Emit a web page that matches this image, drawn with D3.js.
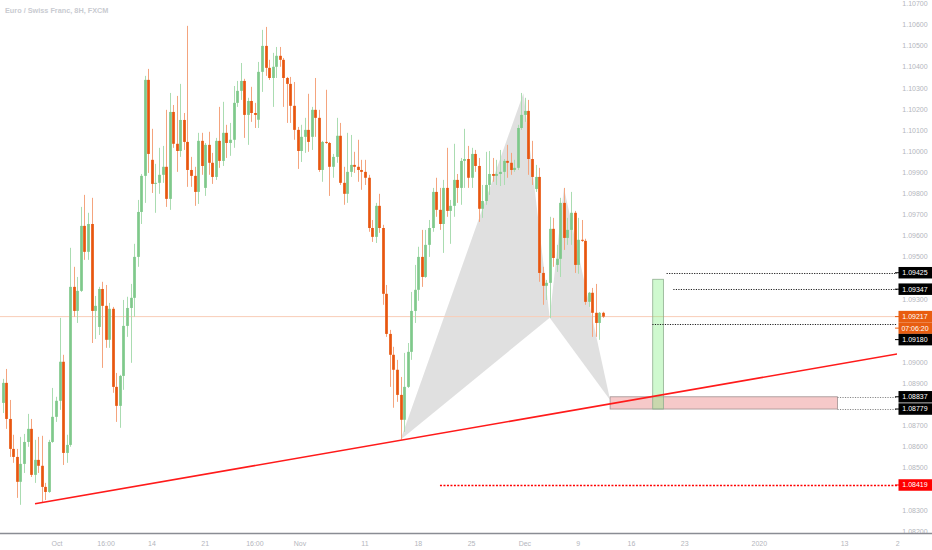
<!DOCTYPE html>
<html><head><meta charset="utf-8">
<script src="https://cdn.jsdelivr.net/npm/d3@7"></script>
<style>html,body{margin:0;padding:0;background:#fff;overflow:hidden}svg{display:block;font-family:"Liberation Sans",Arial,sans-serif}</style>
</head><body><svg id="chart" width="932" height="550"></svg>
<script>
// ---- data (8H bars, EUR/CHF) ----
const barOpen=[1.08808,1.08903,1.08732,1.08590,1.08552,1.08434,1.08519,1.08623,1.08685,1.08467,
1.08538,1.08510,1.08410,1.08386,1.08623,1.08742,1.08818,1.09003,1.08571,1.08609,
1.09358,1.09244,1.09339,1.09647,1.09524,1.09656,1.09244,1.09168,1.09348,1.09268,
1.09107,1.09254,1.08884,1.08794,1.08936,1.09173,1.09258,1.09306,1.09500,1.09713,
1.09884,1.10339,1.09960,1.09846,1.09851,1.09889,1.09927,1.09775,1.10187,1.10036,
1.10002,1.10149,1.10045,1.09912,1.09884,1.09808,1.10050,1.09827,1.10031,1.09946,
1.09879,1.10050,1.09955,1.10088,1.10040,1.10055,1.10230,1.10287,1.10334,1.10173,
1.10239,1.10182,1.10150,1.10377,1.10500,1.10396,1.10348,1.10401,1.10453,1.10434,
1.10348,1.10320,1.10216,1.10102,1.10002,1.10069,1.10102,1.10069,1.10197,1.10159,
1.09912,1.10045,1.10040,1.09927,1.09974,1.10074,1.09851,1.09799,1.09903,1.09936,
1.09927,1.09912,1.09903,1.09875,1.09637,1.09595,1.09742,1.09637,1.09325,1.09135,
1.09036,1.08965,1.08846,1.08728,1.08884,1.09050,1.09244,1.09344,1.09500,1.09405,
1.09557,1.09637,1.09808,1.09723,1.09656,1.09827,1.09718,1.09742,1.09865,1.09827,
1.09955,1.09964,1.09875,1.09988,1.09931,1.09728,1.09765,1.09841,1.09893,1.09884,
1.09893,1.09903,1.09955,1.09946,1.09912,1.09922,1.10111,1.10173,1.10192,1.09964,
1.09822,1.09879,1.09424,1.09363,1.09377,1.09633,1.09462,1.09491,1.09756,1.09590,
1.09628,1.09709,1.09462,1.09581,1.09576,1.09287,1.09330,1.09235,1.09187,1.09235];
const barHigh=[1.08922,1.08969,1.08822,1.08657,1.08590,1.08647,1.08661,1.08756,1.08732,1.08633,
1.08647,1.08652,1.08429,1.08633,1.08879,1.08837,1.09211,1.09036,1.08657,1.09543,
1.09453,1.09405,1.09737,1.09794,1.09709,1.09780,1.09315,1.09358,1.09382,1.09367,
1.09282,1.09263,1.08950,1.08941,1.09296,1.09311,1.09372,1.09562,1.09770,1.09893,
1.10358,1.10391,1.10107,1.09941,1.10017,1.10026,1.10197,1.10277,1.10220,1.10263,
1.10320,1.10182,1.10595,1.09974,1.09927,1.10088,1.10088,1.10040,1.10093,1.09993,
1.10064,1.10211,1.10235,1.10126,1.10135,1.10310,1.10334,1.10419,1.10344,1.10254,
1.10306,1.10230,1.10424,1.10576,1.10590,1.10434,1.10467,1.10495,1.10495,1.10443,
1.10353,1.10353,1.10329,1.10116,1.10126,1.10159,1.10273,1.10211,1.10348,1.10197,
1.10050,1.10292,1.10045,1.09988,1.10159,1.10135,1.09927,1.10088,1.10078,1.09998,
1.10055,1.09960,1.09960,1.09889,1.09675,1.09756,1.09799,1.09652,1.09367,1.09154,
1.09074,1.09012,1.08931,1.09045,1.09092,1.09334,1.09462,1.09548,1.09628,1.09628,
1.09675,1.09827,1.09875,1.09827,1.09865,1.10017,1.09770,1.10036,1.09893,1.09969,
1.10107,1.10026,1.10017,1.10007,1.09969,1.09841,1.09998,1.10002,1.09969,1.09960,
1.10007,1.09964,1.10031,1.09993,1.09960,1.10126,1.10277,1.10254,1.10244,1.10050,
1.09936,1.09922,1.09453,1.09391,1.09690,1.09685,1.09557,1.09780,1.09827,1.09685,
1.09808,1.09718,1.09685,1.09675,1.09586,1.09334,1.09353,1.09372,1.09239,1.09240];
const barLow=[1.08760,1.08685,1.08552,1.08524,1.08358,1.08325,1.08476,1.08600,1.08457,1.08429,
1.08476,1.08334,1.08348,1.08382,1.08619,1.08718,1.08775,1.08514,1.08524,1.08600,
1.09216,1.09187,1.09334,1.09486,1.09486,1.09092,1.09111,1.09130,1.08974,1.09069,
1.09069,1.08856,1.08718,1.08690,1.08870,1.09121,1.08998,1.09216,1.09453,1.09656,
1.09756,1.09898,1.09803,1.09709,1.09799,1.09851,1.09737,1.09723,1.10017,1.09903,
1.09974,1.10007,1.09832,1.09832,1.09742,1.09751,1.09889,1.09789,1.09889,1.09846,
1.09865,1.09922,1.09931,1.09969,1.09979,1.10017,1.10211,1.10244,1.10064,1.10031,
1.10140,1.10111,1.10111,1.10282,1.10358,1.10339,1.10211,1.10348,1.10401,1.10211,
1.10135,1.10135,1.10055,1.09917,1.09950,1.09993,1.09998,1.10007,1.10069,1.09903,
1.09856,1.10035,1.09789,1.09875,1.09946,1.09841,1.09747,1.09756,1.09879,1.09898,
1.09856,1.09818,1.09841,1.09619,1.09571,1.09566,1.09614,1.09273,1.09121,1.08884,
1.08785,1.08813,1.08633,1.08671,1.08879,1.09012,1.09187,1.09292,1.09358,1.09401,
1.09500,1.09619,1.09690,1.09628,1.09519,1.09690,1.09562,1.09690,1.09756,1.09747,
1.09827,1.09827,1.09827,1.09903,1.09666,1.09685,1.09747,1.09794,1.09856,1.09841,
1.09836,1.09841,1.09875,1.09889,1.09903,1.09912,1.10102,1.10140,1.09889,1.09841,
1.09808,1.09382,1.09273,1.09296,1.09211,1.09453,1.09429,1.09405,1.09533,1.09557,
1.09557,1.09424,1.09420,1.09571,1.09273,1.09263,1.09121,1.09121,1.09107,1.09211];
const barClose=[1.08903,1.08732,1.08590,1.08552,1.08434,1.08519,1.08623,1.08685,1.08467,1.08538,
1.08510,1.08410,1.08386,1.08623,1.08742,1.08818,1.09003,1.08571,1.08609,1.09358,
1.09244,1.09339,1.09647,1.09524,1.09656,1.09244,1.09268,1.09348,1.09268,1.09107,
1.09254,1.08884,1.08794,1.08936,1.09173,1.09258,1.09306,1.09500,1.09713,1.09884,
1.10339,1.09988,1.09846,1.09851,1.09889,1.09927,1.09775,1.10187,1.10036,1.10002,
1.10149,1.10045,1.09912,1.09884,1.09808,1.10050,1.09931,1.10031,1.09946,1.09879,
1.10050,1.09955,1.10088,1.10040,1.10055,1.10230,1.10287,1.10334,1.10173,1.10239,
1.10182,1.10173,1.10377,1.10500,1.10396,1.10348,1.10401,1.10453,1.10434,1.10348,
1.10320,1.10216,1.10102,1.10002,1.10069,1.10102,1.10045,1.10197,1.10159,1.09912,
1.10045,1.10040,1.09927,1.09974,1.10074,1.09851,1.09799,1.09903,1.09936,1.09927,
1.09912,1.09903,1.09875,1.09637,1.09595,1.09742,1.09637,1.09325,1.09135,1.09036,
1.08965,1.08846,1.08728,1.08884,1.09050,1.09244,1.09344,1.09500,1.09405,1.09557,
1.09637,1.09808,1.09723,1.09656,1.09827,1.09718,1.09742,1.09865,1.09827,1.09955,
1.09964,1.09875,1.09988,1.09931,1.09728,1.09765,1.09841,1.09893,1.09884,1.09893,
1.09903,1.09955,1.09946,1.09912,1.09922,1.10111,1.10173,1.10192,1.09964,1.09879,
1.09879,1.09424,1.09363,1.09377,1.09633,1.09495,1.09491,1.09756,1.09590,1.09628,
1.09709,1.09462,1.09581,1.09576,1.09287,1.09330,1.09235,1.09187,1.09235,1.09217];

const priceTickValues=[1.082,1.083,1.084,1.085,1.086,1.087,1.088,1.089,1.090,1.091,1.092,1.093,1.094,1.095,1.096,1.097,1.098,1.099,1.100,1.101,1.102,1.103,1.104,1.105,1.106,1.107];
const timeTickLabels=["Oct","16:00","14","21","16:00","Nov","11","18","25","Dec","9","16","23","2020","13","2"];
const timeTickBars=[15.3,29.1,42,57,71,83.7,102,117,132,147,162,177,192,213,237,252];

const trendBars=[9.1,251.8];
const trendPrices=[1.08330,1.09040];
const patternBars=[112,146.6,154,158,171];        // X A B C D
const patternPrices=[1.08633,1.10276,1.09212,1.09827,1.08822];
const levelPrices=[1.09425,1.09347,1.09180,1.08837,1.08779,1.08419];
const levelStartBars=[186.9,188.8,182.9,235,235,123.1];
const redZoneBars=[171,235], redZonePrices=[1.08779,1.08837];
const greenZoneBars=[183,186], greenZonePrices=[1.08779,1.09394];
const lastPrice=1.09217, countdownText="07:06:20";
const titleText="Euro / Swiss Franc, 8H, FXCM";

// ---- layout ----
const W=932,H=550,plotRight=897,axisY=533;
const x=d3.scaleLinear().domain([0,169]).range([2.7,603]);
const y=d3.scaleLinear().domain([1.082,1.107]).range([531.2,3.7]);
const svg=d3.select("#chart");
svg.append("rect").attr("width",W).attr("height",H).attr("fill","#fff");
const defs=svg.append("defs");
defs.append("clipPath").attr("id","plot").append("rect").attr("x",0).attr("y",0).attr("width",plotRight).attr("height",axisY);
const plot=svg.append("g").attr("clip-path","url(#plot)");

// harmonic pattern triangles XAB and BCD
const pts=patternBars.map((b,i)=>[x(b),y(patternPrices[i])]);
plot.append("path").attr("d",d3.line()([pts[0],pts[1],pts[2]])+"Z").attr("fill","#e0e0e0");
plot.append("path").attr("d",d3.line()([pts[2],pts[3],pts[4]])+"Z").attr("fill","#e0e0e0");

// last price line
plot.append("line").attr("x1",0).attr("x2",plotRight).attr("y1",y(lastPrice)).attr("y2",y(lastPrice))
  .attr("stroke","#f9cdb8").attr("stroke-width",1);

// candles
const idx=d3.range(barOpen.length);
const bw=2.7;
const up=i=>barClose[i]>=barOpen[i];
plot.append("g").selectAll("line").data(idx).join("line")
  .attr("x1",i=>Math.round(x(i))+0.5).attr("x2",i=>Math.round(x(i))+0.5)
  .attr("y1",i=>y(barHigh[i])).attr("y2",i=>y(barLow[i]))
  .attr("stroke",i=>up(i)?"#aadcb1":"#f4a47e").attr("stroke-width",1);
plot.append("g").selectAll("rect").data(idx).join("rect")
  .attr("x",i=>Math.round(x(i))+0.5-bw/2).attr("width",bw)
  .attr("y",i=>y(Math.max(barOpen[i],barClose[i])))
  .attr("height",i=>Math.max(1,Math.abs(y(barOpen[i])-y(barClose[i]))))
  .attr("fill",i=>up(i)?"#7fc98b":"#e8560f");

// zones
plot.append("rect").attr("x",x(redZoneBars[0])).attr("width",x(redZoneBars[1])-x(redZoneBars[0]))
  .attr("y",y(redZonePrices[1])).attr("height",y(redZonePrices[0])-y(redZonePrices[1]))
  .attr("fill","rgba(232,120,120,0.4)").attr("stroke","#a09090").attr("stroke-width",0.8);
plot.append("rect").attr("x",x(greenZoneBars[0])).attr("width",x(greenZoneBars[1])-x(greenZoneBars[0]))
  .attr("y",y(greenZonePrices[1])).attr("height",y(greenZonePrices[0])-y(greenZonePrices[1]))
  .attr("fill","rgba(130,240,130,0.38)").attr("stroke","#8fae8f").attr("stroke-width",0.8);

// horizontal level rays
const levelColor=["#222","#222","#222","#888","#888","#ff0000"];
const levelDash=["1.2,1.3","1.2,1.3","1.2,1.3","1.2,1.3","1.2,1.3","2,1.5"];
const levelWidth=[1,1,1,1,1,1.4];
levelPrices.forEach((p,i)=>{
  plot.append("line").attr("x1",x(levelStartBars[i])).attr("x2",plotRight)
    .attr("y1",Math.round(y(p))+0.5).attr("y2",Math.round(y(p))+0.5)
    .attr("stroke",levelColor[i]).attr("stroke-width",levelWidth[i]).attr("stroke-dasharray",levelDash[i]);
});

// trend line
plot.append("line").attr("x1",x(trendBars[0])).attr("y1",y(trendPrices[0]))
  .attr("x2",x(trendBars[1])).attr("y2",y(trendPrices[1]))
  .attr("stroke","#ff1a1a").attr("stroke-width",1.6);

// price-axis labels with overlap avoidance
const boxes=[
  {p:levelPrices[0],t:"1.09425",c:"#000"},
  {p:levelPrices[1],t:"1.09347",c:"#000"},
  {p:lastPrice,t:"1.09217",c:"#e85d10"},
  {p:lastPrice,t:countdownText,c:"#e85d10",follow:true},
  {p:levelPrices[2],t:"1.09180",c:"#000"},
  {p:levelPrices[3],t:"1.08837",c:"#000"},
  {p:levelPrices[4],t:"1.08779",c:"#000"},
  {p:levelPrices[5],t:"1.08419",c:"#ff0000"}];
const bh=11.5;
let prev=-100;
boxes.forEach(b=>{let yy=y(b.p); if(b.follow) yy=prev+bh; if(yy<prev+bh) yy=prev+bh; b.y=yy; prev=yy;});

// price ticks (hidden when covered by a label)
const axisG=svg.append("g");
priceTickValues.forEach(v=>{
  const yy=y(v);
  if(boxes.some(b=>Math.abs(b.y-yy)<9)) return;
  axisG.append("text").attr("x",915).attr("y",yy).attr("dy","0.35em").attr("text-anchor","middle")
    .attr("font-size",7).attr("fill","#b4b6bd").text(d3.format(".5f")(v));
});

const lab=svg.append("g");
boxes.forEach(b=>{
  lab.append("line").attr("x1",895).attr("x2",899).attr("y1",b.y).attr("y2",b.y).attr("stroke",b.c);
  lab.append("rect").attr("x",898.5).attr("y",b.y-bh/2).attr("width",33.5).attr("height",bh).attr("fill",b.c);
  lab.append("text").attr("x",915).attr("y",b.y).attr("dy","0.35em").attr("text-anchor","middle")
    .attr("font-size",7).attr("fill","#fff").text(b.t);
});

// time axis
svg.append("rect").attr("x",0).attr("y",axisY).attr("width",W).attr("height",H-axisY).attr("fill","#fff");
svg.append("line").attr("x1",0).attr("x2",W).attr("y1",axisY+0.5).attr("y2",axisY+0.5).attr("stroke","#8a8d94").attr("stroke-width",1.5);
timeTickLabels.forEach((t,i)=>{
  svg.append("text").attr("x",x(timeTickBars[i])).attr("y",546).attr("text-anchor","middle")
    .attr("font-size",7).attr("fill","#b4b6bd").text(t);
});

// title
svg.append("text").attr("x",5).attr("y",13).attr("font-size",7.3).attr("font-weight","bold")
  .attr("fill","#c9cbd1").text(titleText);
</script></body></html>
